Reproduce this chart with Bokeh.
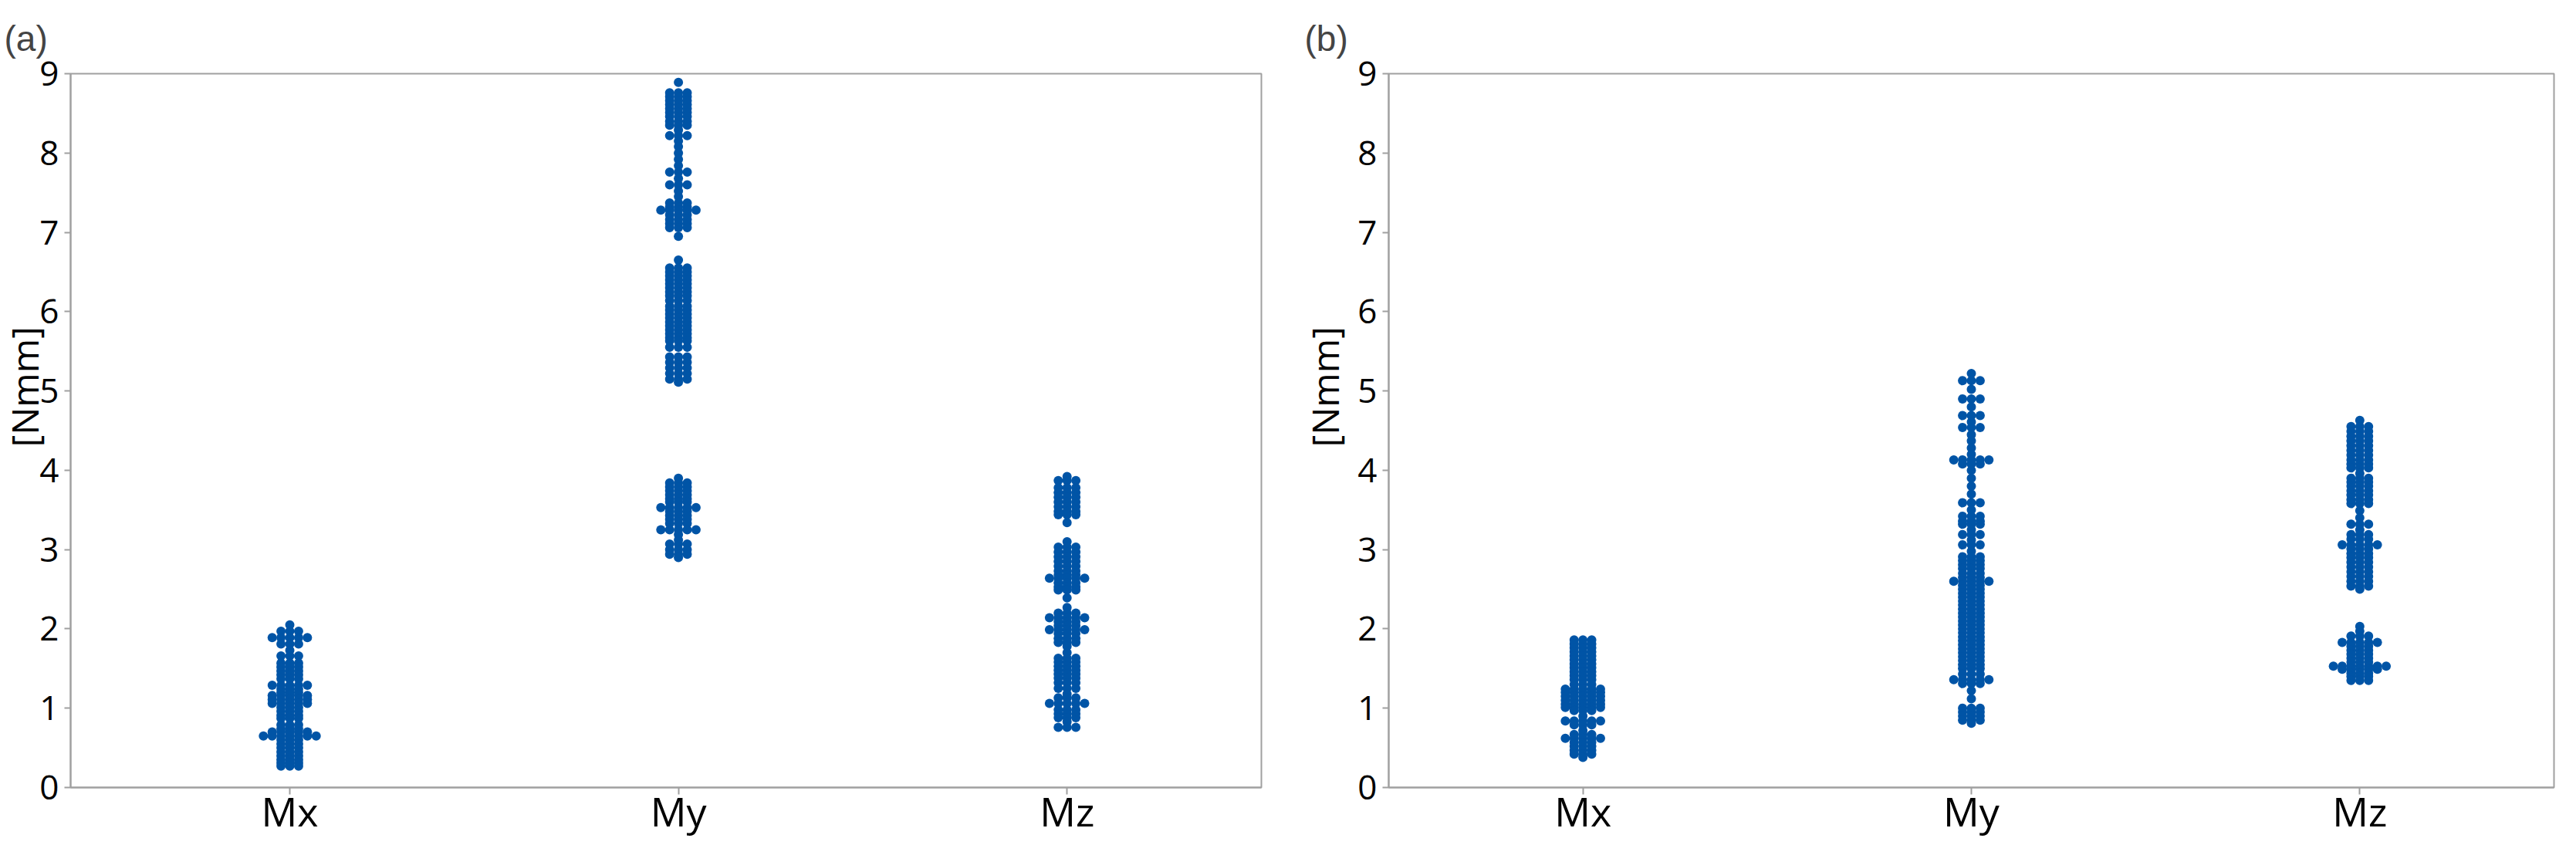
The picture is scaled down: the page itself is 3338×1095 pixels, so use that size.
import numpy as np
from bokeh.plotting import figure
from bokeh.layouts import row
from bokeh.models import FixedTicker, Range1d, Title
from bokeh.embed import file_html
from bokeh.resources import INLINE

categories = ["Mx", "My", "Mz"]
y_ticks = [0, 1, 2, 3, 4, 5, 6, 7, 8, 9]

# ---- panel (a): row values and number of dots in each row ----
mx_a_vals = [2.05, 1.97, 1.89, 1.81, 1.73, 1.66, 1.57, 1.52, 1.47, 1.42, 1.37, 1.29, 1.24, 1.20, 1.16, 1.11, 1.06,
             1.01, 0.96, 0.91, 0.87, 0.79, 0.74, 0.70, 0.65, 0.60, 0.55, 0.50, 0.45, 0.40, 0.35, 0.31, 0.27]
mx_a_cnts = [1, 3, 5, 3, 1, 3, 3, 3, 3, 3, 3, 5, 3, 3, 5, 5, 5,
             3, 3, 3, 3, 3, 3, 5, 7, 3, 3, 3, 3, 3, 3, 3, 3]

my_a_vals = [8.89, 8.76, 8.71, 8.66, 8.61, 8.56, 8.51, 8.46, 8.40, 8.35, 8.29, 8.22, 8.15, 8.08, 8.00, 7.92, 7.84,
             7.76, 7.68, 7.60, 7.52, 7.45, 7.37, 7.32, 7.28, 7.22, 7.16, 7.11, 7.06, 6.95,
             6.65, 6.55, 6.50, 6.45, 6.40, 6.35, 6.30, 6.25, 6.20, 6.14, 6.07, 6.02, 5.97, 5.92, 5.87, 5.82,
             5.77, 5.72, 5.67, 5.63, 5.55, 5.43, 5.36, 5.29, 5.22, 5.15, 5.11,
             3.90, 3.84, 3.79, 3.74, 3.69, 3.64, 3.60, 3.53, 3.48, 3.43, 3.38, 3.33, 3.25, 3.19, 3.12, 3.07,
             3.00, 2.94, 2.90]
my_a_cnts = [1, 3, 3, 3, 3, 3, 3, 3, 3, 3, 1, 3, 1, 1, 1, 1, 1,
             3, 1, 3, 1, 1, 3, 3, 5, 3, 3, 3, 3, 1,
             1, 3, 3, 3, 3, 3, 3, 3, 3, 3, 3, 3, 3, 3, 3, 3,
             3, 3, 3, 3, 3, 3, 3, 3, 3, 3, 1,
             1, 3, 3, 3, 3, 3, 3, 5, 3, 3, 3, 3, 5, 1, 1, 3,
             3, 3, 1]

mz_a_vals = [3.92, 3.87, 3.78, 3.72, 3.66, 3.60, 3.54, 3.48, 3.44, 3.34,
             3.10, 3.03, 2.97, 2.91, 2.85, 2.79, 2.73, 2.68, 2.64, 2.58, 2.53, 2.49, 2.39,
             2.27, 2.20, 2.14, 2.09, 2.04, 1.99, 1.94, 1.88, 1.83, 1.78, 1.70, 1.63, 1.58, 1.53, 1.48,
             1.43, 1.38, 1.32, 1.25, 1.18, 1.13, 1.06, 0.98, 0.93, 0.88, 0.83, 0.76]
mz_a_cnts = [1, 3, 3, 3, 3, 3, 3, 3, 3, 1,
             1, 3, 3, 3, 3, 3, 3, 3, 5, 3, 3, 3, 1,
             1, 3, 5, 3, 3, 5, 3, 3, 3, 1, 1, 3, 3, 3, 3,
             3, 3, 3, 3, 1, 3, 5, 3, 3, 3, 1, 3]

# ---- panel (b) ----
mx_b_vals = [1.86, 1.81, 1.76, 1.71, 1.66, 1.61, 1.56, 1.51, 1.46, 1.41, 1.36, 1.30, 1.24, 1.20, 1.15, 1.10,
             1.05, 1.01, 0.97, 0.90, 0.84, 0.79, 0.72, 0.67, 0.62, 0.57, 0.52, 0.47, 0.42, 0.38]
mx_b_cnts = [3, 3, 3, 3, 3, 3, 3, 3, 3, 3, 3, 3, 5, 5, 5, 5,
             5, 5, 3, 1, 5, 3, 1, 3, 5, 3, 3, 3, 3, 1]

my_b_vals = [5.22, 5.13, 5.02, 4.90, 4.80, 4.69, 4.61, 4.54, 4.45, 4.37, 4.28, 4.20, 4.13, 4.08, 4.00, 3.90,
             3.80, 3.70, 3.59, 3.50, 3.42, 3.36, 3.32, 3.25, 3.19, 3.12, 3.06, 2.98, 2.91, 2.86, 2.81, 2.76,
             2.70, 2.65, 2.60, 2.55, 2.50, 2.45, 2.40, 2.35, 2.30, 2.25, 2.20, 2.15, 2.10, 2.05, 2.00, 1.95,
             1.90, 1.85, 1.80, 1.75, 1.70, 1.65, 1.60, 1.55, 1.50, 1.43, 1.36, 1.31, 1.22, 1.12, 1.00, 0.95,
             0.90, 0.85, 0.81]
my_b_cnts = [1, 3, 1, 3, 1, 3, 1, 3, 1, 1, 1, 1, 5, 3, 1, 1,
             1, 1, 3, 1, 3, 3, 3, 1, 3, 1, 3, 1, 3, 3, 3, 3,
             3, 3, 5, 3, 3, 3, 3, 3, 3, 3, 3, 3, 3, 3, 3, 3,
             3, 3, 3, 3, 3, 3, 3, 3, 3, 3, 5, 3, 1, 1, 3, 3,
             3, 3, 1]

mz_b_vals = [4.63, 4.55, 4.49, 4.43, 4.37, 4.31, 4.25, 4.19, 4.13, 4.08, 4.03, 3.96, 3.90, 3.85, 3.80, 3.74,
             3.69, 3.63, 3.58, 3.49, 3.40, 3.32, 3.25, 3.19, 3.13, 3.06, 3.01, 2.95, 2.90, 2.84, 2.78, 2.72,
             2.66, 2.60, 2.54, 2.50,
             2.03, 1.97, 1.91, 1.83, 1.78, 1.73, 1.68, 1.63, 1.58, 1.53, 1.49, 1.44, 1.40, 1.35]
mz_b_cnts = [1, 3, 3, 3, 3, 3, 3, 3, 3, 3, 3, 1, 3, 3, 3, 3,
             3, 3, 3, 1, 1, 3, 1, 3, 3, 5, 3, 3, 3, 3, 3, 3,
             3, 3, 3, 1,
             1, 1, 3, 5, 3, 3, 3, 3, 3, 7, 5, 3, 3, 3]

DOT = "#0054A6"
GRAY = "#a0a0a0"
FONT = "Open Sans"


def expand(vals, cnts):
    out = []
    for v, c in zip(vals, cnts):
        out.extend([v] * c)
    return out


def swarm(values, center, col_w, tol=0.03):
    order = [0]
    for i in range(1, 30):
        order += [-i, i]
    placed = {}
    xs, ys = [], []
    for v in sorted(values, reverse=True):
        for c in order:
            if all(abs(v - y) >= tol - 1e-9 for y in placed.get(c, [])):
                placed.setdefault(c, []).append(v)
                xs.append(center + c * col_w)
                ys.append(v)
                break
    return xs, ys


def make_panel(title, data, x0, x1, width, bl, br, title_off, ylab_standoff):
    p = figure(width=width, height=1089, output_backend="svg", toolbar_location=None,
               x_range=Range1d(x0, x1), y_range=Range1d(0, 9),
               min_border_left=bl, min_border_right=br, min_border_top=95, min_border_bottom=69)
    frame_w = width - bl - br
    col_w = 11.4 * (x1 - x0) / frame_w
    for i, vals in enumerate(data):
        xs, ys = swarm(vals, i + 1, col_w)
        p.scatter(xs, ys, size=12, fill_color=DOT, line_color=None)
    p.xgrid.visible = False
    p.ygrid.visible = False
    p.outline_line_color = GRAY
    p.outline_line_width = 2
    p.xaxis.ticker = FixedTicker(ticks=[1, 2, 3])
    p.xaxis.major_label_overrides = {1: categories[0], 2: categories[1], 3: categories[2]}
    p.yaxis.ticker = FixedTicker(ticks=y_ticks)
    for ax in (p.xaxis[0], p.yaxis[0]):
        ax.axis_line_color = GRAY
        ax.axis_line_width = 2
        ax.major_tick_line_color = GRAY
        ax.major_tick_line_width = 2
        ax.major_tick_in = 0
        ax.minor_tick_line_color = None
        ax.major_label_text_font = FONT
        ax.major_label_text_color = "black"
    p.xaxis.major_tick_out = 9
    p.yaxis.major_tick_out = 8
    p.xaxis.major_label_text_font_size = "52px"
    p.xaxis.major_label_standoff = -15
    p.yaxis.major_label_text_font_size = "44px"
    p.yaxis.major_label_standoff = 7
    ylab = Title(text="[Nmm]", align="left", offset=441, standoff=ylab_standoff, text_font=FONT,
                 text_font_size="48px", text_font_style="normal", text_color="black")
    p.add_layout(ylab, "left")
    p.title.text = title
    p.title.text_font = "Liberation Sans Narrow, Liberation Sans"
    p.title.text_font_size = "46px"
    p.title.text_font_style = "normal"
    p.title.align = "left"
    p.title.offset = title_off
    p.title.standoff = 40
    return p


data_a = [expand(mx_a_vals, mx_a_cnts), expand(my_a_vals, my_a_cnts), expand(mz_a_vals, mz_a_cnts)]
data_b = [expand(mx_b_vals, mx_b_cnts), expand(my_b_vals, my_b_cnts), expand(mz_b_vals, mz_b_cnts)]

pa = make_panel("(a)", data_a, 0.436, 3.5, 1660, 91, 26, -86, -30)
pb = make_panel("(b)", data_b, 0.5, 3.5, 1662, 139, 13, -109, 16)

layout = row(pa, pb)
open("out.html", "w").write(file_html(layout, INLINE))
